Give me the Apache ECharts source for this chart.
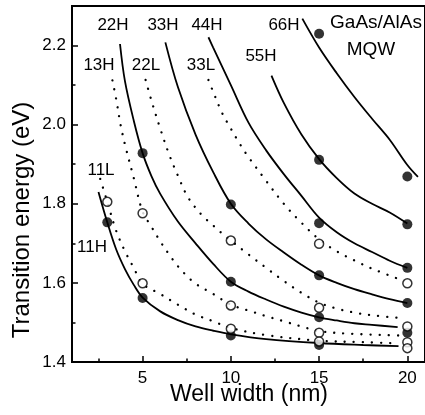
<!DOCTYPE html>
<html><head><meta charset="utf-8">
<script src="https://cdn.jsdelivr.net/npm/echarts@6/dist/echarts.min.js"></script>
<style>html,body{margin:0;padding:0;background:#fff}#c{width:425px;height:415px}</style>
</head><body><div id="c"></div>
<script>
// ---- data ----
const xTicks = [5, 10, 15, 20];
const xMinorTicks = [2.5, 7.5, 12.5, 17.5];
const yTicks = [1.4, 1.6, 1.8, 2.0, 2.2];
const yMinorTicks = [1.5, 1.7, 1.9, 2.1];

// solid curves (heavy-hole transitions)
const c11H = [[2.5,1.83],[3,1.753],[3.5,1.685],[4,1.635],[4.5,1.595],[5,1.563],[6,1.528],[7,1.506],[8,1.490],[9,1.479],[10,1.470],[12,1.458],[15,1.448],[17.5,1.443],[19.5,1.440]];
const c22H = [[3.72,2.204],[4,2.11],[4.5,2.01],[5,1.928],[5.5,1.87],[6,1.825],[7,1.755],[8,1.70],[9,1.648],[10,1.603],[11,1.578],[12,1.558],[13,1.540],[14,1.525],[15,1.513],[16,1.505],[17,1.498],[18,1.494],[19.45,1.488]];
const c33H = [[6.29,2.208],[7,2.095],[8,1.975],[9,1.88],[10,1.80],[11,1.75],[12,1.71],[13,1.677],[14,1.646],[15,1.619],[16,1.60],[17,1.584],[18,1.571],[19,1.559],[20,1.549]];
const c44H = [[8.73,2.221],[9,2.195],[10,2.10],[11,2.005],[12,1.935],[13,1.875],[14,1.82],[15,1.765],[16,1.728],[17,1.70],[18,1.678],[19,1.656],[20,1.638]];
const c55H = [[12.3,2.124],[13,2.055],[14,1.975],[15,1.913],[16,1.865],[17,1.826],[18,1.80],[19,1.778],[20,1.75]];
const c66H = [[14.05,2.268],[15,2.195],[16,2.13],[17,2.07],[18,2.015],[19,1.962],[20,1.898],[20.6,1.868]];

// dotted curves (light-hole / 13H transitions)
const c11L = [[2.6,1.863],[3,1.805],[3.5,1.732],[4,1.68],[4.5,1.638],[5,1.598],[6,1.572],[7,1.545],[8,1.52],[9,1.503],[10,1.486],[12,1.468],[15,1.454],[17.5,1.45],[19.5,1.447]];
const c13H = [[3.29,2.112],[3.5,2.065],[3.75,2.0],[4,1.95],[4.5,1.865],[5,1.78],[5.5,1.742],[6,1.705],[6.5,1.672],[7,1.642],[7.5,1.618],[8,1.598],[9,1.572],[10,1.545],[11,1.53],[12,1.516],[13,1.503],[14,1.49],[15,1.478],[17,1.471],[19.5,1.467]];
const c22L = [[5.17,2.113],[5.5,2.061],[6,1.99],[6.5,1.925],[7,1.871],[7.5,1.822],[8,1.79],[8.5,1.765],[9,1.745],[9.5,1.725],[10,1.707],[11,1.672],[12,1.638],[13,1.605],[14,1.575],[15,1.55],[16,1.535],[17,1.525],[18,1.518],[19.5,1.512]];
const c33L = [[8.73,2.113],[9,2.083],[9.5,2.03],[10,1.99],[10.5,1.952],[11,1.918],[12,1.858],[13,1.80],[14,1.752],[15,1.71],[16,1.68],[17,1.657],[18,1.636],[19.5,1.61]];

// measured points
const filledPts = [[3,1.753],[5,1.928],[5,1.562],[10,1.798],[10,1.603],[10,1.467],[15,2.230],[15,1.911],[15,1.751],[15,1.619],[15,1.513],[15,1.443],[20,1.869],[20,1.748],[20,1.638],[20,1.549],[20,1.474]];
const openPts = [[3,1.805],[5,1.776],[5,1.599],[10,1.707],[10,1.543],[10,1.484],[15,1.699],[15,1.537],[15,1.474],[15,1.452],[20,1.599],[20,1.490],[20,1.450],[20,1.435]];

// curve labels
const labels = [
  ['22H',113,25],['33H',163,25],['44H',207,25],['66H',284,25],
  ['55H',261,56],['13H',99,65],['22L',146,65],['33L',201,65],
  ['11L',101,170],['11H',92,247]
];

const FONT = 'Liberation Sans, Arial, sans-serif';
const solid = [c11H,c22H,c33H,c44H,c55H,c66H];
const dotted = [c11L,c13H,c22L,c33L];

const series = [];
solid.forEach(d => series.push({type:'line', data:d, smooth:0.35, symbol:'none', silent:true, z:2,
  lineStyle:{color:'#000', width:1.8}}));
dotted.forEach(d => series.push({type:'line', data:d, smooth:0.35, symbol:'none', silent:true, z:2,
  lineStyle:{color:'#000', width:2.3, type:[0.1,9], cap:'round'}}));
series.push({type:'scatter', data:filledPts, symbol:'circle', symbolSize:10, z:4,
  itemStyle:{color:'#000'}});
series.push({type:'scatter', data:openPts, symbol:'circle', symbolSize:9, z:5,
  itemStyle:{color:'#fff', borderColor:'#000', borderWidth:1.5}});

const graphic = labels.map(l => ({type:'text', x:l[1], y:l[2], z:10,
  style:{text:l[0], fontSize:17, fontFamily:FONT, fill:'#000', align:'center', verticalAlign:'middle'}}));
graphic.push({type:'text', x:376, y:23, z:10, style:{text:'GaAs/AlAs', fontSize:19, fontFamily:FONT, fill:'#000', align:'center', verticalAlign:'middle'}});
graphic.push({type:'text', x:371, y:50, z:10, style:{text:'MQW', fontSize:19, fontFamily:FONT, fill:'#000', align:'center', verticalAlign:'middle'}});
graphic.push({type:'text', x:249, y:395, z:10, style:{text:'Well width (nm)', fontSize:23, fontFamily:FONT, fill:'#000', align:'center', verticalAlign:'middle'}});
graphic.push({type:'text', x:22, y:220, rotation:Math.PI/2, z:10, style:{text:'Transition energy (eV)', fontSize:24, fontFamily:FONT, fill:'#000', align:'center', verticalAlign:'middle'}});

const chart = echarts.init(document.getElementById('c'), null, {renderer:'canvas'});
chart.setOption({
  animation:false,
  backgroundColor:'#fff',
  grid:{left:72, top:6, right:-2, bottom:53, show:true, borderColor:'#000', borderWidth:2},
  xAxis:[
    {type:'value', min:1, max:21, splitLine:{show:false},
     axisLine:{lineStyle:{color:'#000', width:2}},
     axisTick:{inside:true, length:6, customValues:xTicks, lineStyle:{color:'#000', width:1.5}},
     axisLabel:{customValues:xTicks, fontSize:17, fontFamily:FONT, color:'#000', margin:8}},
    {type:'value', min:1, max:21, position:'bottom', splitLine:{show:false},
     axisLine:{show:false}, axisLabel:{show:false},
     axisTick:{inside:true, length:3.5, customValues:xMinorTicks, lineStyle:{color:'#000', width:1.5}}}
  ],
  yAxis:[
    {type:'value', min:1.4, max:2.3, splitLine:{show:false},
     axisLine:{lineStyle:{color:'#000', width:2}},
     axisTick:{inside:true, length:6, customValues:yTicks, lineStyle:{color:'#000', width:1.5}},
     axisLabel:{customValues:yTicks, fontSize:17, fontFamily:FONT, color:'#000', margin:6,
       formatter:v => v.toFixed(1)}},
    {type:'value', min:1.4, max:2.3, position:'left', splitLine:{show:false},
     axisLine:{show:false}, axisLabel:{show:false},
     axisTick:{inside:true, length:3.5, customValues:yMinorTicks, lineStyle:{color:'#000', width:1.5}}}
  ],
  series: series,
  graphic: graphic
});
</script></body></html>
